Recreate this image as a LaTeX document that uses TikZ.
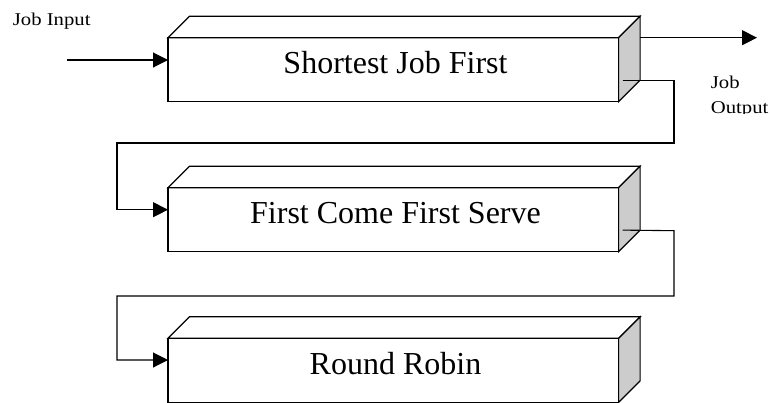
\documentclass[tikz,border=0pt]{standalone}
\usepackage{fontspec}
\setmainfont{Liberation Serif}
\newfontfamily\smallserif[FakeStretch=1.15]{Liberation Serif}
\usetikzlibrary{arrows.meta,calc}
\tikzset{
  frontbox/.style={draw,fill=white,line width=1.2pt,minimum width=450.6pt,minimum height=64pt,inner sep=0pt,outer sep=0pt},
  face/.style={draw,line width=1.2pt,line join=miter},
  sideface/.style={face,fill=black!20},
  boxtext/.style={anchor=base,inner sep=0pt,font=\fontsize{32}{38}\selectfont},
  smalltext/.style={anchor=base west,inner sep=0pt,font=\smallserif\fontsize{18}{21}\selectfont},
  conn/.style={line width=1.1pt},
  arr/.style={conn,-{Triangle[length=15pt,width=15pt]}}
}
\begin{document}
\begin{tikzpicture}[x=1pt,y=-1pt]
\useasboundingbox (0,0) rectangle (770,402);
\clip (0,0) rectangle (770,402);
% boxes
\foreach \n/\t in {b1/37.7,b2/187.7,b3/338.3}{
  \node[frontbox,anchor=north west] (\n) at (168,\t) {};
  \draw[face,fill=white] (\n.north west) -- ++(21.5,-21.5) -- ($(\n.north east)+(21.5,-21.5)$) -- (\n.north east) -- cycle;
  \draw[sideface] (\n.north east) -- ++(21.5,-21.5) -- ++(0,64) -- (\n.south east) -- cycle;
}
\node[boxtext] (t1) at (395.5,73.3) {Shortest Job First};
\node[boxtext] (t2) at (395.5,223.3) {First Come First Serve};
\node[boxtext] (t3) at (395.5,374) {Round Robin};
% labels
\node[smalltext] (lin) at (12.7,25.7) {Job Input};
\node[smalltext] (lout1) at (710.7,88.3) {Job};
\begin{scope}
\clip (700,95) rectangle (770,113.6);
\node[smalltext] (lout2) at (710.7,113.3) {Output};
\end{scope}
% connectors
\coordinate (src) at (66.7,60);
\coordinate (in1) at (b1.west |- src);
\draw[arr] (src) -- (in1);
\coordinate (out1) at (757,37.7);
\draw[arr] ($(b1.north east)+(21.5,0)$) -- (out1);
\coordinate (o1) at ($(b1.south east)+(4,-21)$);
\coordinate (in2) at ($(b2.west)+(0,-10)$);
\draw[arr] (o1) -- (674,80.7) |- (117,143) |- (in2);
\coordinate (o2) at ($(b2.south east)+(4,-21.6)$);
\coordinate (in3) at (168,360);
\draw[arr] (o2) -- (674,230.7) |- (117,296) |- (in3);
\end{tikzpicture}
\end{document}
